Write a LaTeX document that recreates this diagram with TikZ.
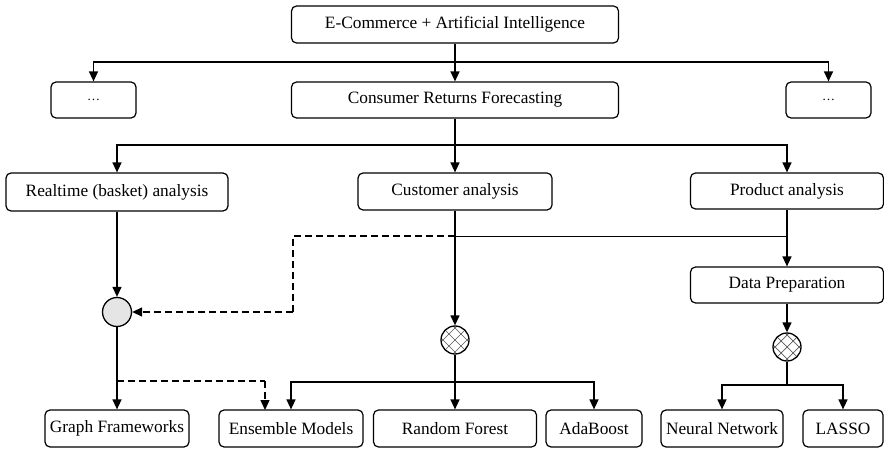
\documentclass[tikz,border=0pt]{standalone}
\usepackage{fontspec}
\setmainfont{Liberation Serif}
\usetikzlibrary{arrows.meta}
\tikzset{
  box/.style={draw, line width=1.2pt, rounded corners=5pt, minimum height=37pt, inner sep=0pt, font=\fontsize{17.3}{20}\selectfont, fill=white},
  conn/.style={line width=1.3pt, -{Triangle[length=10pt,width=9pt]}},
  plain/.style={line width=1.3pt},
  dconn/.style={line width=1.3pt, dash pattern=on 7pt off 4pt},
  thin/.style={line width=0.8pt},
  hub/.style={circle, draw, line width=1.3pt, minimum size=28pt, inner sep=0pt},
  hatch/.style={hub, path picture={
      \foreach \i in {-2,...,2} {
        \draw[black!65, line width=0.7pt] ([shift={(\i*12-20,-20)}]path picture bounding box.center) -- ++(40,40);
        \draw[black!65, line width=0.7pt] ([shift={(\i*12-20,20)}]path picture bounding box.center) -- ++(40,-40);
      }}},
}
\begin{document}
\begin{tikzpicture}[x=1pt,y=-1pt]
\useasboundingbox (0,0) rectangle (884,449);
% boxes
\node[box, minimum width=327pt] (top) at (455,24.5) {E-Commerce + Artificial Intelligence};
\node[box, minimum width=85pt, minimum height=36pt, font=\fontsize{13}{16}\selectfont] (dotsL) at (93.5,100) {\dots};
\node[box, minimum width=327pt, minimum height=36pt] (crf) at (455,100) {Consumer Returns Forecasting};
\node[box, minimum width=85pt, minimum height=36pt, font=\fontsize{13}{16}\selectfont] (dotsR) at (828.5,100) {\dots};
\node[box, minimum width=222pt, minimum height=38pt] (rt) at (117,192) {Realtime (basket) analysis};
\node[box, minimum width=194pt] (cust) at (455,191.5) {Customer analysis};
\node[box, minimum width=193pt, minimum height=36pt] (prod) at (787,191) {Product analysis};
\node[box, minimum width=193pt, minimum height=36pt] (prep) at (787,285) {Data Preparation};
\node[box, minimum width=144pt] (graph) at (117,428.5) {Graph Frameworks};
\node[box, minimum width=144pt] (ens) at (291,428.5) {Ensemble Models};
\node[box, minimum width=163pt] (rf) at (455,428.5) {Random Forest};
\node[box, minimum width=96pt] (ada) at (594,428.5) {AdaBoost};
\node[box, minimum width=122pt] (nn) at (722,428.5) {Neural Network};
\node[box, minimum width=80pt] (lasso) at (843,428.5) {LASSO};
% hubs
\node[hub, fill=black!10, minimum size=29pt] (bask) at (117,312) {};
\node[hatch] (h1) at (455,340) {};
\node[hatch] (h2) at (787,347) {};
% junctions
\coordinate (j1) at (455,62);
\coordinate (j2) at (455,145);
\coordinate (j3) at (455,236);
\coordinate (j4) at (787,236);
\coordinate (d1) at (293,236);
\coordinate (d2) at (293,312);
\coordinate (g1) at (117,381);
\coordinate (g2) at (265,381);
\coordinate (e1) at (265,410);
\coordinate (k1) at (455,382);
\coordinate (k2) at (787,385);
% connectors
\draw[conn] (top.south) -- (crf.north);
\draw[conn] (j1) -| (dotsL.north);
\draw[conn] (j1) -| (dotsR.north);
\draw[plain] (crf.south) -- (j2);
\draw[conn] (j2) -- (cust.north);
\draw[conn] (j2) -| (rt.north);
\draw[conn] (j2) -| (prod.north);
\draw[conn] (rt.south) -- (bask.north);
\draw[conn] (bask.south) -- (graph.north);
\draw[dconn] (g1) -- (g2);
\draw[dconn, -{Triangle[length=10pt,width=9pt]}] (g2) -- (e1);
\draw[conn] (cust.south) -- (h1.north);
\draw[conn] (h1.south) -- (rf.north);
\draw[conn] (k1) -| (ens.north);
\draw[conn] (k1) -| (ada.north);
\draw[conn] (prod.south) -- (prep.north);
\draw[thin] (j4) -- (j3);
\draw[dconn] (j3) -- (d1) -- (d2);
\draw[dconn, -{Triangle[length=10pt,width=9pt]}] (d2) -- (bask.east);
\draw[conn] (prep.south) -- (h2.north);
\draw[plain] (h2.south) -- (k2);
\draw[conn] (k2) -| (nn.north);
\draw[conn] (k2) -| (lasso.north);
\end{tikzpicture}
\end{document}
